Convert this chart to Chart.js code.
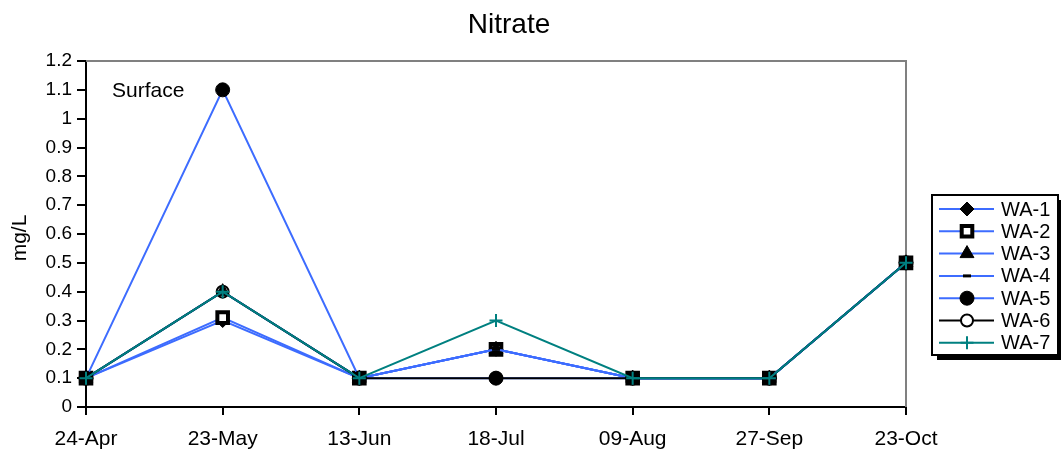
<!DOCTYPE html>
<html>
<head>
<meta charset="utf-8">
<script src="https://cdn.jsdelivr.net/npm/chart.js@4"></script>
<style>
  html, body { margin: 0; padding: 0; background: #fff; }
  #wrap { width: 1061px; height: 457px; }
</style>
</head>
<body>
<div id="wrap"><canvas id="chart" width="1061" height="457"></canvas></div>
<script>
// ---- data ----
const dates = ["24-Apr", "23-May", "13-Jun", "18-Jul", "09-Aug", "27-Sep", "23-Oct"];
const wa1 = [0.1, 0.3, 0.1, 0.2, 0.1, 0.1, 0.5];
const wa2 = [0.1, 0.31, 0.1, 0.2, 0.1, 0.1, 0.5];
const wa3 = [0.1, 0.4, 0.1, 0.2, 0.1, 0.1, 0.5];
const wa4 = [0.1, 0.4, 0.1, 0.2, 0.1, 0.1, 0.5];
const wa5 = [0.1, 1.1, 0.1, 0.1, 0.1, 0.1, 0.5];
const wa6 = [0.1, 0.4, 0.1, 0.1, 0.1, 0.1, 0.5];
const wa7 = [0.1, 0.4, 0.1, 0.3, 0.1, 0.1, 0.5];
const yTicks = [0, 0.1, 0.2, 0.3, 0.4, 0.5, 0.6, 0.7, 0.8, 0.9, 1, 1.1, 1.2];

const FONT = '"Liberation Sans", Arial, sans-serif';
const BLUE = '#3d6cff';
const TEAL = '#008080';

// series look: line colour, marker shape/size/fill
const seriesList = [
    { label: 'WA-1', data: wa1, color: BLUE,   style: 'rectRot',  radius: 7, fill: '#000', stroke: '#000', bw: 1 },
    { label: 'WA-2', data: wa2, color: BLUE,   style: 'rect',     radius: 7.5, fill: '#fff', stroke: '#000', bw: 4 },
    { label: 'WA-3', data: wa3, color: BLUE,   style: 'triangle', radius: 8, fill: '#000', stroke: '#000', bw: 1 },
    { label: 'WA-4', data: wa4, color: BLUE,   style: 'line',     radius: 4, fill: '#000', stroke: '#000', bw: 3 },
    { label: 'WA-5', data: wa5, color: BLUE,   style: 'circle',   radius: 7, fill: '#000', stroke: '#000', bw: 1 },
    { label: 'WA-6', data: wa6, color: '#000', style: 'circle',   radius: 6, fill: 'rgba(0,0,0,0)', stroke: '#000', bw: 2 },
    { label: 'WA-7', data: wa7, color: TEAL,   style: 'cross',    radius: 6.5, fill: TEAL, stroke: TEAL, bw: 2 }
];

const datasets = seriesList.map((s, i) => ({
    label: s.label,
    data: s.data,
    borderColor: s.color,
    backgroundColor: s.color,
    borderWidth: 2,
    tension: 0,
    fill: false,
    pointStyle: s.style,
    pointRadius: s.radius,
    pointBackgroundColor: s.fill,
    pointBorderColor: s.stroke,
    pointBorderWidth: s.bw,
    order: seriesList.length - i   // later series on top, as in the original
}));

/**
 * Title, axis title, "Surface" note, plot frame and boxed legend
 */
const decorations = {
    id: 'decorations',
    beforeDatasetsDraw(chart) {
        const ctx = chart.ctx;
        const a = chart.chartArea;
        ctx.save();
        ctx.strokeStyle = '#808080';
        ctx.lineWidth = 2;
        ctx.beginPath();
        ctx.moveTo(a.left, a.top);
        ctx.lineTo(a.right, a.top);
        ctx.lineTo(a.right, a.bottom);
        ctx.stroke();
        ctx.restore();
    },
    afterDraw(chart) {
        const ctx = chart.ctx;
        ctx.save();
        ctx.fillStyle = '#000';

        // title
        ctx.font = '28px ' + FONT;
        ctx.textAlign = 'center';
        ctx.textBaseline = 'alphabetic';
        ctx.fillText('Nitrate', 509, 33);

        // note
        ctx.font = '21px ' + FONT;
        ctx.textAlign = 'left';
        ctx.fillText('Surface', 112, 97);

        // y axis title
        ctx.save();
        ctx.translate(20, 238);
        ctx.rotate(-Math.PI / 2);
        ctx.font = '21px ' + FONT;
        ctx.textAlign = 'center';
        ctx.textBaseline = 'middle';
        ctx.fillText('mg/L', 0, 0);
        ctx.restore();

        // legend box with shadow
        const bx = 932, by = 195, bw = 126, bh = 160;
        ctx.fillStyle = '#000';
        ctx.fillRect(bx + 5, by + 5, bw, bh);
        ctx.fillStyle = '#fff';
        ctx.fillRect(bx, by, bw, bh);
        ctx.strokeStyle = '#000';
        ctx.lineWidth = 2;
        ctx.strokeRect(bx, by, bw, bh);

        ctx.font = '20px ' + FONT;
        ctx.textBaseline = 'middle';
        seriesList.forEach((s, i) => {
            const y = 209 + i * 22.3;
            ctx.strokeStyle = s.color;
            ctx.lineWidth = 2;
            ctx.beginPath();
            ctx.moveTo(939, y);
            ctx.lineTo(994, y);
            ctx.stroke();
            ctx.fillStyle = s.label === 'WA-6' ? '#fff' : s.fill;
            ctx.strokeStyle = s.stroke;
            ctx.lineWidth = s.bw;
            Chart.helpers.drawPoint(ctx, { pointStyle: s.style, radius: s.radius, rotation: 0, borderWidth: s.bw }, 967, y);
            ctx.fillStyle = '#000';
            ctx.fillText(s.label, 1001, y + 1);
        });
        ctx.restore();
    }
};

const ctx = document.getElementById('chart').getContext('2d');
new Chart(ctx, {
    type: 'line',
    data: { labels: dates, datasets: datasets },
    options: {
        responsive: false,
        animation: false,
        layout: { padding: { top: 61, right: 155, left: 0, bottom: 0 } },
        plugins: {
            legend: { display: false },
            title: { display: false },
            tooltip: { enabled: false }
        },
        scales: {
            x: {
                offset: false,
                grid: { display: true, drawOnChartArea: false, drawTicks: true, tickLength: 8, color: '#000', lineWidth: 2 },
                border: { display: true, color: '#000', width: 2 },
                ticks: {
                    color: '#000',
                    font: { family: FONT, size: 21 },
                    padding: 12,
                    maxRotation: 0,
                    autoSkip: false
                },
                afterFit(scale) { scale.height = 50; }
            },
            y: {
                min: 0,
                max: 1.2,
                afterBuildTicks(scale) { scale.ticks = yTicks.map(v => ({ value: v })); },
                grid: { display: true, drawOnChartArea: false, drawTicks: true, tickLength: 9, color: '#000', lineWidth: 2 },
                border: { display: true, color: '#000', width: 2 },
                ticks: {
                    color: '#000',
                    font: { family: FONT, size: 19 },
                    padding: 5,
                    callback: v => String(Math.round(v * 10) / 10)
                },
                afterFit(scale) { scale.width = 86; }
            }
        }
    },
    plugins: [decorations]
});
</script>
</body>
</html>
